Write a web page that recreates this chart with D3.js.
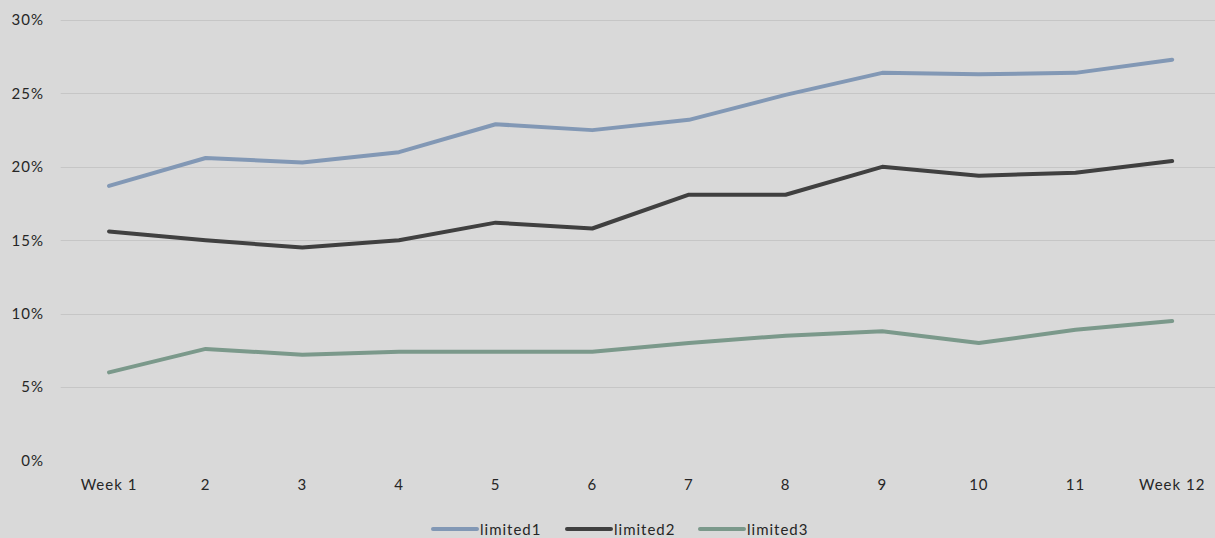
<!DOCTYPE html>
<html>
<head>
<meta charset="utf-8">
<script src="https://cdn.jsdelivr.net/npm/d3@7"></script>
<style>
  html, body { margin: 0; padding: 0; background: #d9d9d9; }
  svg { display: block; }
  text { font-family: Lato, "Open Sans", sans-serif; fill: #262626; letter-spacing: 1px; }
</style>
</head>
<body>
<svg id="chart" width="1215" height="538"></svg>
<script>
// Weekly shares per group (percent)
const weeks = ["Week 1", "2", "3", "4", "5", "6", "7", "8", "9", "10", "11", "Week 12"];
const limited1 = [18.7, 20.6, 20.3, 21.0, 22.9, 22.5, 23.2, 24.9, 26.4, 26.3, 26.4, 27.3];
const limited2 = [15.6, 15.0, 14.5, 15.0, 16.2, 15.8, 18.1, 18.1, 20.0, 19.4, 19.6, 20.4];
const limited3 = [6.0, 7.6, 7.2, 7.4, 7.4, 7.4, 8.0, 8.5, 8.8, 8.0, 8.9, 9.5];
const yTicks = [0, 5, 10, 15, 20, 25, 30];
const seriesNames = ["limited1", "limited2", "limited3"];

const series = [
  { name: seriesNames[0], values: limited1, color: "#8298b5" },
  { name: seriesNames[1], values: limited2, color: "#404040" },
  { name: seriesNames[2], values: limited3, color: "#7b998b" }
];

const W = 1215, H = 538;
const svg = d3.select("#chart");
svg.append("rect").attr("width", W).attr("height", H).attr("fill", "#d9d9d9");

const plot = { left: 60.7, right: 1220.5, top: 20, bottom: 460.5 };

const x = d3.scaleBand().domain(weeks).range([plot.left, plot.right]);
const y = d3.scaleLinear().domain([0, 30]).range([plot.bottom, plot.top]);

// Horizontal gridlines (no line at zero)
svg.append("g")
  .selectAll("line")
  .data(yTicks.filter(t => t > 0))
  .join("line")
  .attr("x1", plot.left)
  .attr("x2", W)
  .attr("y1", d => Math.round(y(d)) + 0.5)
  .attr("y2", d => Math.round(y(d)) + 0.5)
  .attr("stroke", "#c6c6c6")
  .attr("stroke-width", 1.2);

const fontStack = "Lato, 'Open Sans', sans-serif";

// Y axis labels
const yAxis = d3.axisLeft(y).tickValues(yTicks).tickFormat(d => d + "%").tickSize(0).tickPadding(0);
const gy = svg.append("g").attr("transform", "translate(44,0)").call(yAxis);
gy.select(".domain").remove();
gy.selectAll("text").attr("font-size", 15).attr("fill", "#262626")
  .style("font-family", fontStack);

// X axis labels
const xAxis = d3.axisBottom(x).tickSize(0).tickPadding(0);
const gx = svg.append("g").attr("transform", "translate(0,479)").call(xAxis);
gx.select(".domain").remove();
gx.selectAll("text").attr("font-size", 15).attr("fill", "#262626")
  .style("font-family", fontStack);

// Lines
const line = d3.line()
  .x((d, i) => x(weeks[i]) + x.bandwidth() / 2)
  .y(d => y(d));

svg.append("g")
  .selectAll("path")
  .data(series)
  .join("path")
  .attr("d", d => line(d.values))
  .attr("fill", "none")
  .attr("stroke", d => d.color)
  .attr("stroke-width", 4)
  .attr("stroke-linecap", "round")
  .attr("stroke-linejoin", "round");

// Legend
const legendX = [433, 567, 700];
const legend = svg.append("g")
  .selectAll("g")
  .data(series)
  .join("g")
  .attr("transform", (d, i) => `translate(${legendX[i]},529)`);
legend.append("line")
  .attr("x1", 0).attr("x2", 44)
  .attr("stroke", d => d.color)
  .attr("stroke-width", 4)
  .attr("stroke-linecap", "round");
legend.append("text")
  .attr("x", 47)
  .attr("y", 5.5)
  .attr("font-size", 15)
  .style("font-family", fontStack)
  .text(d => d.name);
</script>
</body>
</html>
